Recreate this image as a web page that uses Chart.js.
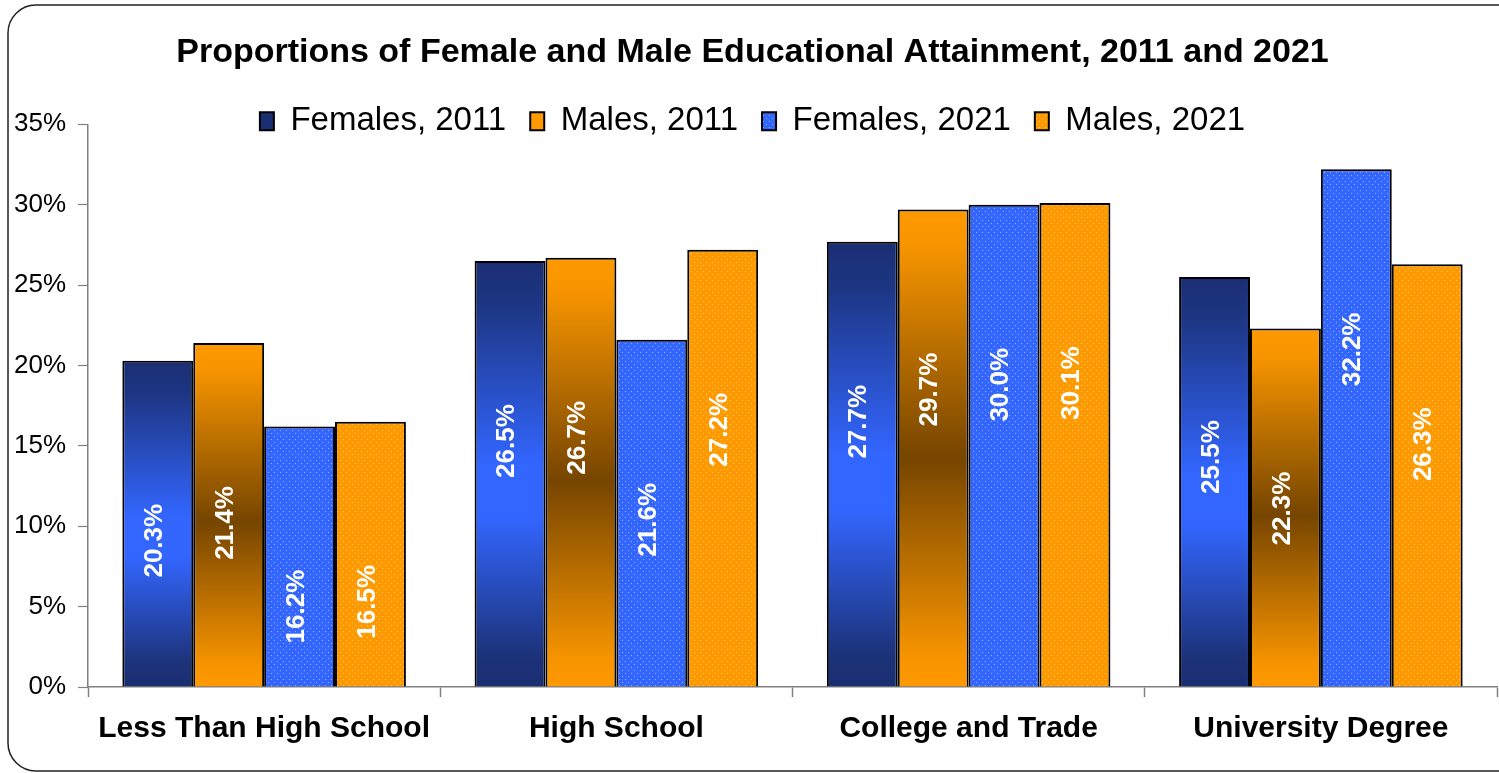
<!DOCTYPE html>
<html><head><meta charset="utf-8">
<script src="https://cdn.jsdelivr.net/npm/chart.js@4.4.0/dist/chart.umd.min.js"></script>
<style>html,body{margin:0;padding:0;background:#fff;overflow:hidden}canvas{display:block}</style>
</head><body>
<canvas id="c" width="1499" height="773"></canvas>
<script>
// ---- data ----
const categories = ['Less Than High School', 'High School', 'College and Trade', 'University Degree'];
const seriesNames = ['Females, 2011', 'Males, 2011', 'Females, 2021', 'Males, 2021'];
const females2011 = [20.3, 26.5, 27.7, 25.5];
const males2011 = [21.4, 26.7, 29.7, 22.3];
const females2021 = [16.2, 21.6, 30.0, 32.2];
const males2021 = [16.5, 27.2, 30.1, 26.3];
const yMin = 0, yMax = 35, yStep = 5;
const titleText = 'Proportions of Female and Male Educational Attainment, 2011 and 2021';

// ---- styles ----
const FONT = "'Liberation Sans', Arial, sans-serif";
const LABEL_DROP = 11.2; // label centre sits this many units below bar top
const canvas = document.getElementById('c');
const mainCtx = canvas.getContext('2d');

function dotPattern(base, dot) {
  const t = document.createElement('canvas');
  t.width = 6; t.height = 6;
  const x = t.getContext('2d');
  x.fillStyle = base; x.fillRect(0, 0, 6, 6);
  x.fillStyle = dot;
  x.fillRect(1, 1, 1, 1);
  x.fillRect(4, 4, 1, 1);
  return mainCtx.createPattern(t, 'repeat');
}

function barGradient(stops, fallback) {
  return (c) => {
    if (c.type !== 'data') return fallback;
    const chart = c.chart, ys = chart.scales && chart.scales.y;
    if (!ys || !chart.chartArea) return fallback;
    const top = ys.getPixelForValue(c.raw), base = ys.getPixelForValue(0);
    if (!isFinite(top) || !isFinite(base) || Math.abs(base - top) < 1) return fallback;
    const g = chart.ctx.createLinearGradient(0, top, 0, base);
    stops.forEach(s => g.addColorStop(s[0], s[1]));
    return g;
  };
}

const blueGrad = [[0, '#1a2e74'], [0.1, '#1d3582'], [0.48, '#3366ff'], [0.6, '#3366ff'], [0.93, '#1c3278'], [1, '#1a2e72']];
const orangeGrad = [[0, '#ff9900'], [0.08, '#f69400'], [0.52, '#764500'], [0.93, '#f59300'], [1, '#ff9900']];

const borderPlugin = {
  id: 'frame',
  beforeDraw(chart) {
    const ctx = chart.ctx;
    ctx.save();
    ctx.fillStyle = '#fff';
    ctx.fillRect(0, 0, chart.width, chart.height);
    ctx.strokeStyle = '#222';
    ctx.lineWidth = 1.5;
    ctx.beginPath();
    ctx.roundRect(8, 5, chart.width + 40, chart.height - 7, 28);
    ctx.stroke();
    ctx.restore();
  }
};

const legendPatch = {
  id: 'legendPatch',
  afterInit(chart) {
    const lg = chart.legend;
    if (lg && lg._draw) {
      lg.draw = function () { if (this.options.display) this._draw(); };
    }
  }
};

const valueLabels = {
  id: 'valueLabels',
  afterDatasetsDraw(chart) {
    const ctx = chart.ctx, ys = chart.scales.y;
    ctx.save();
    ctx.fillStyle = '#fff';
    ctx.font = 'bold 26px ' + FONT;
    ctx.textAlign = 'center';
    ctx.textBaseline = 'middle';
    chart.data.datasets.forEach((ds, i) => {
      const meta = chart.getDatasetMeta(i);
      meta.data.forEach((bar, j) => {
        const v = ds.data[j];
        const yc = ys.getPixelForValue(v - LABEL_DROP);
        ctx.save();
        ctx.translate(bar.x, yc);
        ctx.rotate(-Math.PI / 2);
        ctx.fillText(v.toFixed(1) + '%', 0, -3);
        ctx.restore();
      });
    });
    ctx.restore();
  }
};

const common = { borderColor: '#000', borderWidth: 2, barPercentage: 1.0, categoryPercentage: 0.805 };

new Chart(mainCtx, {
  type: 'bar',
  data: {
    labels: categories,
    datasets: [
      Object.assign({ label: seriesNames[0], data: females2011, backgroundColor: barGradient(blueGrad, '#2a52d6') }, common),
      Object.assign({ label: seriesNames[1], data: males2011, backgroundColor: barGradient(orangeGrad, '#c97800') }, common),
      Object.assign({ label: seriesNames[2], data: females2021, backgroundColor: dotPattern('#3366ff', '#9db2ff') }, common),
      Object.assign({ label: seriesNames[3], data: males2021, backgroundColor: dotPattern('#ff9900', '#ffcc70') }, common)
    ]
  },
  options: {
    responsive: false,
    animation: false,
    events: [],
    layout: { padding: { top: 0, left: 8, right: 2, bottom: 12 } },
    plugins: {
      title: {
        display: true, text: titleText, color: '#000',
        font: { size: 34, weight: 'bold', family: FONT },
        padding: { top: 32, bottom: 8 }
      },
      legend: {
        display: true, position: 'top', maxHeight: 43.5,
        labels: { boxWidth: 14, boxHeight: 18, padding: 24, color: '#000', font: { size: 33, family: FONT } }
      },
      tooltip: { enabled: false }
    },
    scales: {
      x: {
        grid: { offset: true, drawOnChartArea: false, drawTicks: true, tickLength: 10, tickColor: '#808080', tickWidth: 1.5 },
        border: { display: true, color: '#808080', width: 1.5 },
        ticks: { color: '#000', padding: 14, font: { size: 30, weight: 'bold', family: FONT } }
      },
      y: {
        min: yMin, max: yMax,
        afterFit(s) { s.width = 80; },
        grid: { drawOnChartArea: false, drawTicks: true, tickLength: 10, tickColor: '#808080', tickWidth: 1.2 },
        border: { display: true, color: '#808080', width: 1.5 },
        ticks: { stepSize: yStep, padding: 12, color: '#000', font: { size: 26, family: FONT }, callback: v => v + '%' }
      }
    }
  },
  plugins: [borderPlugin, legendPatch, valueLabels]
});
</script>
</body></html>
